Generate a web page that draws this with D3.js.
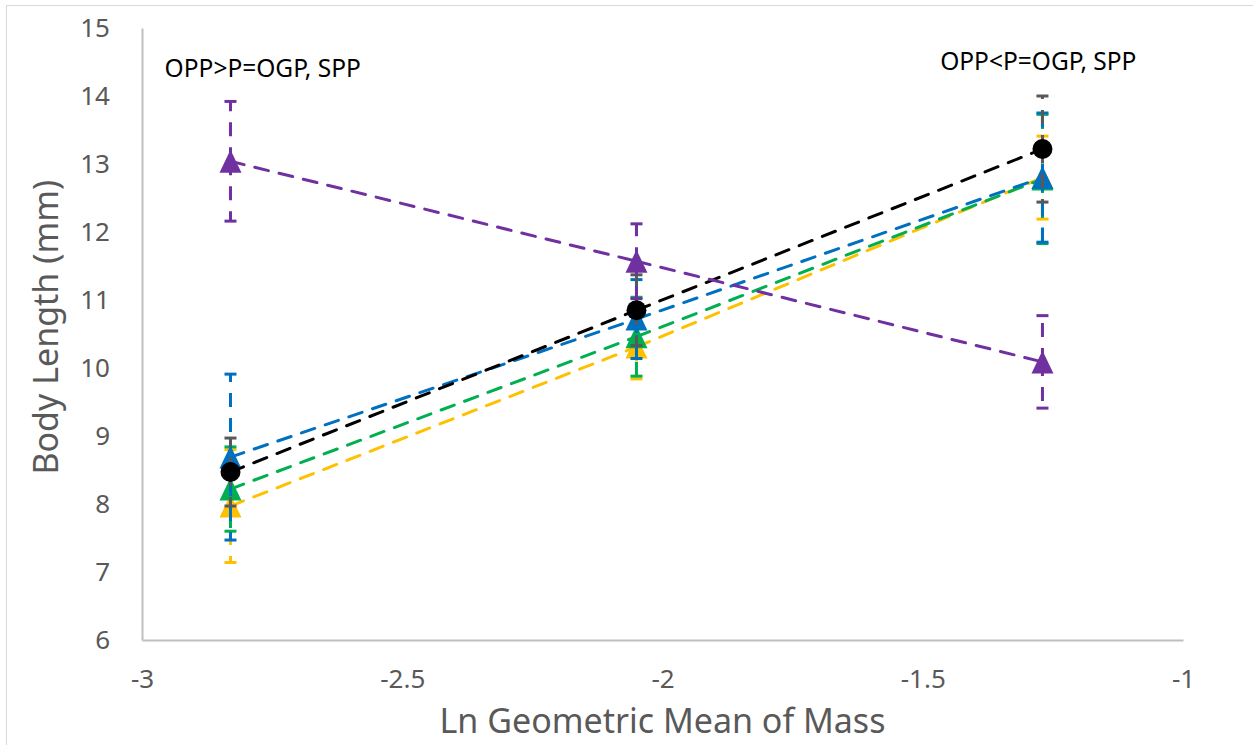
<!DOCTYPE html>
<html>
<head>
<meta charset="utf-8">
<script src="https://cdn.jsdelivr.net/npm/d3@7"></script>
<style>
  html, body { margin: 0; padding: 0; background: #fff; }
  svg { display: block; }
  text { font-family: "Noto Sans", "Open Sans", sans-serif; }
</style>
</head>
<body>
<svg id="chart" width="1253" height="745"></svg>
<script>
// Size classes along the x axis (ln of geometric mean mass)
const massLn = [-2.83, -2.05, -1.27];

// Mean body length (mm) and error half-widths per series
const purpleMean = [13.04, 11.57, 10.09];
const purpleErr  = [0.88, 0.55, 0.68];
const blackMean  = [8.47, 10.85, 13.22];
const blackErr   = [0.50, 0.52, 0.78];
const blueMean   = [8.69, 10.72, 12.80];
const blueErr    = [1.22, 0.58, 0.95];
const greenMean  = [8.22, 10.46, 12.78];
const greenErr   = [0.62, 0.58, 0.95];
const yellowMean = [7.97, 10.31, 12.80];
const yellowErr  = [0.83, 0.47, 0.61];

const xTicks = [-3, -2.5, -2, -1.5, -1];
const yTicks = [6, 7, 8, 9, 10, 11, 12, 13, 14, 15];

// Text notes placed in data coordinates (centre x, baseline y)
const notes = [
  { text: "OPP>P=OGP, SPP", x: -2.768, y: 14.28 },
  { text: "OPP<P=OGP, SPP", x: -1.278, y: 14.38 }
];

// Series in drawing order (later ones sit on top)
const series = [
  { mean: yellowMean, err: yellowErr, color: "#FFC000", bar: "#FFC000", marker: "triangle" },
  { mean: greenMean,  err: greenErr,  color: "#00B050", bar: "#00B050", marker: "triangle" },
  { mean: blueMean,   err: blueErr,   color: "#0070C0", bar: "#0070C0", marker: "triangle" },
  { mean: blackMean,  err: blackErr,  color: "#000000", bar: "#595959", marker: "circle" },
  { mean: purpleMean, err: purpleErr, color: "#7030A0", bar: "#7030A0", marker: "triangle" }
];

const svg = d3.select("#chart");

// outer chart frame
svg.append("rect")
  .attr("x", 6.5).attr("y", 5.5)
  .attr("width", 1262).attr("height", 760)
  .attr("fill", "none").attr("stroke", "#d9d9d9").attr("stroke-width", 1);

const x = d3.scaleLinear().domain([-3, -1]).range([142, 1183]);
const y = d3.scaleLinear().domain([6, 15]).range([640, 28]);

const axisColor = "#bfbfbf";
const labelColor = "#595959";

const gx = svg.append("g").attr("transform", `translate(0,${y(6)})`)
  .call(d3.axisBottom(x).tickValues(xTicks).tickSize(0).tickPadding(30)
        .tickFormat(d => String(d)));
const gy = svg.append("g").attr("transform", `translate(${x(-3)},0)`)
  .call(d3.axisLeft(y).tickValues(yTicks).tickSize(0).tickPadding(32)
        .tickFormat(d => String(d)));

[gx, gy].forEach(g => {
  g.select(".domain").attr("stroke", axisColor).attr("stroke-width", 2);
  g.selectAll("text").attr("fill", labelColor).attr("font-size", 26)
    .attr("font-family", "\"Noto Sans\", sans-serif");
});

// axis titles
svg.append("text")
  .attr("x", (x(-3) + x(-1)) / 2).attr("y", 733)
  .attr("text-anchor", "middle").attr("fill", labelColor)
  .attr("font-size", 34).text("Ln Geometric Mean of Mass");

svg.append("text")
  .attr("transform", `translate(58,${y(10.6)}) rotate(-90)`)
  .attr("text-anchor", "middle").attr("fill", labelColor)
  .attr("font-size", 34).text("Body Length (mm)");

const dash = "14,11";
const lw = 3;
const capHalf = 6;
const triW = 22, triH = 23, circR = 10;

series.forEach(s => {
  const g = svg.append("g");
  const pts = s.mean.map((m, i) => [x(massLn[i]), y(m)]);

  // connecting dashed line, one segment per interval starting at each point
  for (let i = 0; i < pts.length - 1; i++) {
    g.append("line")
      .attr("x1", pts[i][0]).attr("y1", pts[i][1])
      .attr("x2", pts[i + 1][0]).attr("y2", pts[i + 1][1])
      .attr("stroke", s.color).attr("stroke-width", lw)
      .attr("stroke-dasharray", dash).attr("stroke-linecap", "round");
  }

  // error bars: each half drawn outward from the mean
  s.mean.forEach((m, i) => {
    const cx = x(massLn[i]);
    [m + s.err[i], m - s.err[i]].forEach(end => {
      g.append("line")
        .attr("x1", cx).attr("y1", y(m))
        .attr("x2", cx).attr("y2", y(end))
        .attr("stroke", s.bar).attr("stroke-width", lw)
        .attr("stroke-dasharray", dash);
      g.append("line")
        .attr("x1", cx - capHalf).attr("x2", cx + capHalf)
        .attr("y1", y(end)).attr("y2", y(end))
        .attr("stroke", s.bar).attr("stroke-width", lw);
    });
  });

  // markers
  pts.forEach(([px, py]) => {
    if (s.marker === "circle") {
      g.append("circle").attr("cx", px).attr("cy", py).attr("r", circR)
        .attr("fill", s.color);
    } else {
      g.append("path")
        .attr("d", `M${px},${py - triH / 2}L${px + triW / 2},${py + triH / 2}L${px - triW / 2},${py + triH / 2}Z`)
        .attr("fill", s.color);
    }
  });
});

// annotations
notes.forEach(n => {
  svg.append("text")
    .attr("x", x(n.x)).attr("y", y(n.y))
    .attr("text-anchor", "middle").attr("fill", "#000")
    .attr("font-size", 24.5).text(n.text);
});
</script>
</body>
</html>
